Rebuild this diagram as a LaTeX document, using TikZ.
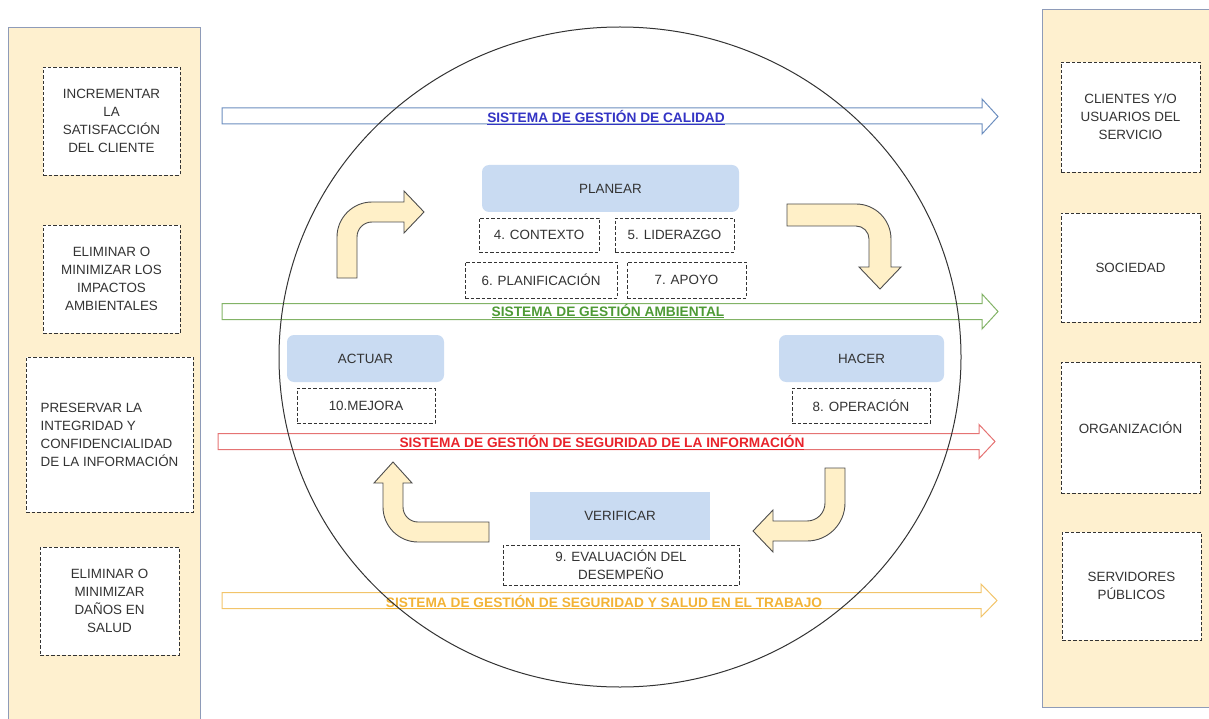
\documentclass[tikz,border=0pt]{standalone}
\usepackage{fontspec}
\setmainfont{Liberation Sans}
\definecolor{panelfill}{HTML}{FEF0CF}
\definecolor{paneldraw}{HTML}{8E9BB8}
\definecolor{txt}{HTML}{333333}
\definecolor{phva}{HTML}{C9DBF2}
\definecolor{arrfill}{HTML}{FFF0C8}
\definecolor{arrdraw}{HTML}{4D4D4D}
\definecolor{bandblue}{HTML}{6C8EBF}
\definecolor{textblue}{HTML}{3434C4}
\definecolor{bandgreen}{HTML}{82B366}
\definecolor{textgreen}{HTML}{4E9A35}
\definecolor{bandred}{HTML}{E57373}
\definecolor{textred}{HTML}{E8232B}
\definecolor{bandorange}{HTML}{F2C46A}
\definecolor{textorange}{HTML}{F2B336}
\begin{document}
\begin{tikzpicture}[x=1pt,y=-1pt,
  panel/.style={fill=panelfill, draw=paneldraw, line width=0.9pt},
  dbox/.style={draw=txt, dash pattern=on 3.5pt off 2pt, line width=0.9pt, fill=white, align=center, text=txt, inner sep=0pt, font=\fontsize{13.4}{18}\selectfont},
  pbox/.style={fill=phva, rounded corners=7pt, text=txt, inner sep=0pt, font=\fontsize{13.4}{18}\selectfont},
  bandtext/.style={anchor=base, inner sep=0pt, font=\bfseries\fontsize{13.7}{16}\selectfont},
  band/.style={line width=1pt},
  bent/.style={fill=arrfill, draw=arrdraw, line width=0.9pt, line join=miter},
  ring/.style={draw=black!80, line width=1pt}
]
\useasboundingbox (0,0) rectangle (1209,719);
\clip (0,0) rectangle (1209,719);

% side panels
\path[panel] (8,27) rectangle (200,730);
\path[panel] (1042,9) rectangle (1215,707);

% left boxes
\node[dbox, minimum width=137pt, minimum height=108pt] (l1) at (111.5,121) {INCREMENTAR\\LA\\SATISFACCIÓN\\DEL CLIENTE};
\node[dbox, minimum width=137pt, minimum height=108pt] (l2) at (111.5,279) {ELIMINAR O\\MINIMIZAR LOS\\IMPACTOS\\AMBIENTALES};
\node[dbox, minimum width=167pt, minimum height=155pt, align=left] (l3) at (109.5,434.5) {PRESERVAR LA\\INTEGRIDAD Y\\CONFIDENCIALIDAD\\DE LA INFORMACIÓN};
\node[dbox, minimum width=139pt, minimum height=108pt] (l4) at (109.5,601) {ELIMINAR O\\MINIMIZAR\\DAÑOS EN\\SALUD};

% right boxes
\node[dbox, minimum width=139pt, minimum height=110pt] (r1) at (1130.5,117) {CLIENTES Y/O\\USUARIOS DEL\\SERVICIO};
\node[dbox, minimum width=139pt, minimum height=109pt] (r2) at (1130.5,267.5) {SOCIEDAD};
\node[dbox, minimum width=139pt, minimum height=131pt] (r3) at (1130.5,427.5) {ORGANIZACIÓN};
\node[dbox, minimum width=139pt, minimum height=108pt] (r4) at (1131.5,586) {SERVIDORES\\PÚBLICOS};

% system bands
\draw[band, bandblue] (222,108) -- (982,108) -- (982,99) -- (998,116.5) -- (982,134) -- (982,124) -- (222,124) -- cycle;
\draw[band, bandgreen] (222,303.5) -- (982,303.5) -- (982,294) -- (998,311.5) -- (982,329) -- (982,319.5) -- (222,319.5) -- cycle;
\draw[band, bandred] (218,433.5) -- (979,433.5) -- (979,424.5) -- (995,441.5) -- (979,458.5) -- (979,449.5) -- (218,449.5) -- cycle;
\draw[band, bandorange] (222,592.5) -- (981,592.5) -- (981,584) -- (997,600.5) -- (981,617) -- (981,608.5) -- (222,608.5) -- cycle;

\node[bandtext, text=textblue] (tq) at (606,122.5) {\underline{SISTEMA DE GESTIÓN DE CALIDAD}};
\node[bandtext, text=textgreen] (ta) at (608,316) {\underline{SISTEMA DE GESTIÓN AMBIENTAL}};
\node[bandtext, text=textred] (ts) at (602,447.5) {\underline{SISTEMA DE GESTIÓN DE SEGURIDAD DE LA INFORMACIÓN}};
\node[bandtext, text=textorange] (tt) at (604,607) {\underline{SISTEMA DE GESTIÓN DE SEGURIDAD Y SALUD EN EL TRABAJO}};

% circle
\draw[ring] (620,357) ellipse [x radius=341, y radius=330];

% PHVA
\node[pbox, minimum width=257pt, minimum height=47pt] (planear) at (610.5,188.5) {PLANEAR};
\node[pbox, minimum width=157pt, minimum height=47pt] (actuar) at (365.5,358.5) {ACTUAR};
\node[pbox, minimum width=165pt, minimum height=47pt] (hacer) at (861.5,358.5) {HACER};
\node[pbox, rounded corners=0pt, minimum width=180pt, minimum height=48pt] (verificar) at (620,516) {VERIFICAR};

\node[dbox, minimum width=120pt, minimum height=34pt] (c4) at (539,235) {4. CONTEXTO};
\node[dbox, minimum width=119pt, minimum height=34pt] (c5) at (674.5,235) {5. LIDERAZGO};
\node[dbox, minimum width=152pt, minimum height=36pt] (c6) at (541,280) {6. PLANIFICACIÓN};
\node[dbox, minimum width=119pt, minimum height=36pt] (c7) at (686.5,280) {7. APOYO};
\node[dbox, minimum width=138pt, minimum height=35pt] (c10) at (366,405.5) {10.MEJORA};
\node[dbox, minimum width=138pt, minimum height=35pt] (c8) at (861,405.5) {8. OPERACIÓN};
\node[dbox, minimum width=236pt, minimum height=40pt] (c9) at (621,565) {9. EVALUACIÓN DEL\\DESEMPEÑO};

% bent arrows
% up then right (top-left)
\draw[bent] (337,278) -- (337,237) .. controls (337,217.7) and (352.7,202) .. (372,202)
  -- (404,202) -- (404,191) -- (424,212) -- (404,233) -- (404,222) -- (372,222)
  .. controls (363.7,222) and (357,228.7) .. (357,237) -- (357,278) -- cycle;
% right then down (top-right)
\draw[bent] (787,204) -- (856,204) .. controls (875.3,204) and (891,219.7) .. (891,239)
  -- (891,267) -- (901,267) -- (880,289) -- (859,267) -- (869,267) -- (869,239)
  .. controls (869,231.8) and (863.2,226) .. (856,226) -- (787,226) -- cycle;
% down then left (bottom-right)
\draw[bent] (825,468) -- (845,468) -- (845,503) .. controls (845,524) and (828,541) .. (807,541)
  -- (773,541) -- (773,552) -- (753,531) -- (773,510) -- (773,521) -- (807,521)
  .. controls (817,521) and (825,513) .. (825,503) -- cycle;
% left then up (bottom-left)
\draw[bent] (489,522) -- (418,522) .. controls (409.7,522) and (403,515.3) .. (403,507)
  -- (403,483) -- (412,483) -- (393,462) -- (374,483) -- (383,483) -- (383,507)
  .. controls (383,526.3) and (398.7,542) .. (418,542) -- (489,542) -- cycle;
\end{tikzpicture}
\end{document}
